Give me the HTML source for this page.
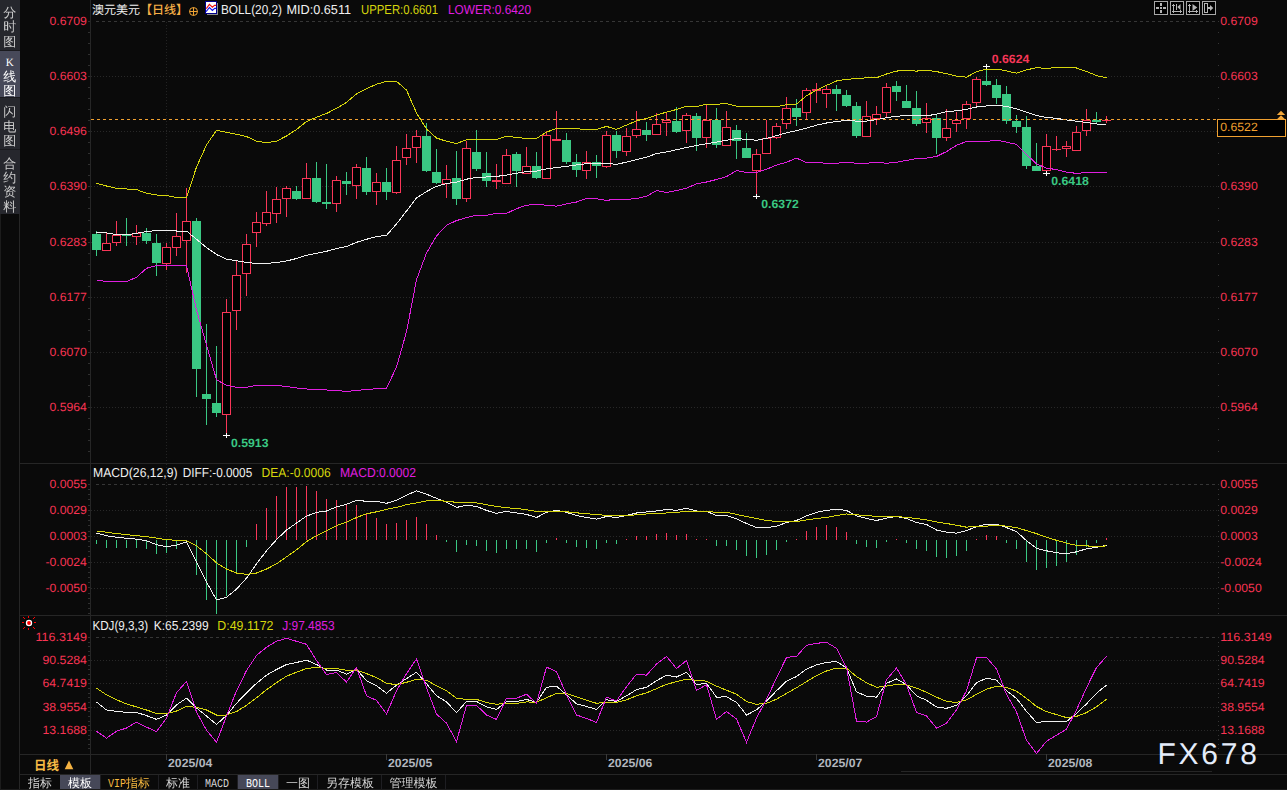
<!DOCTYPE html>
<html lang="zh-CN"><head><meta charset="utf-8"><title>澳元美元 日线</title>
<style>html,body{margin:0;padding:0;background:#0a0a0a;overflow:hidden}svg{display:block}</style></head>
<body>
<svg width="1287" height="790" viewBox="0 0 1287 790" shape-rendering="crispEdges" font-family='"Liberation Sans", "Noto Sans CJK SC", sans-serif' text-rendering="geometricPrecision">
<rect x="0" y="0" width="1287" height="790" fill="#0a0a0a"/>
<rect x="0" y="0" width="20" height="214" fill="#26272d"/>
<rect x="0" y="51" width="20" height="46" fill="#474959"/>
<line x1="0" y1="50.5" x2="20" y2="50.5" stroke="#1a1a1e"/>
<line x1="0" y1="97.5" x2="20" y2="97.5" stroke="#1a1a1e"/>
<line x1="0" y1="149.5" x2="20" y2="149.5" stroke="#1a1a1e"/>
<g font-family='"Liberation Serif", "WenQuanYi Zen Hei", sans-serif' font-size="13" text-anchor="middle">
<text fill="#cccccc"><tspan x="9.7" y="16.5">分</tspan><tspan x="9.7" y="31">时</tspan><tspan x="9.7" y="45.5">图</tspan></text>
<text fill="#ffffff"><tspan x="9.7" y="65.5" font-size="11">K</tspan><tspan x="9.7" y="81">线</tspan><tspan x="9.7" y="95">图</tspan></text>
<text fill="#cccccc"><tspan x="9.7" y="116">闪</tspan><tspan x="9.7" y="130.5">电</tspan><tspan x="9.7" y="144.5">图</tspan></text>
<text fill="#cccccc"><tspan x="9.7" y="168">合</tspan><tspan x="9.7" y="182">约</tspan><tspan x="9.7" y="196">资</tspan><tspan x="9.7" y="210.5">料</tspan></text>
</g>
<line x1="19.5" y1="214" x2="19.5" y2="790" stroke="#262626"/>
<line x1="0.5" y1="214" x2="0.5" y2="790" stroke="#1c1c1c"/>
<line x1="90.5" y1="0" x2="90.5" y2="774" stroke="#262626"/>
<line x1="19" y1="463.5" x2="1287" y2="463.5" stroke="#262626"/>
<line x1="19" y1="615.5" x2="1287" y2="615.5" stroke="#262626"/>
<line x1="19" y1="754.5" x2="1287" y2="754.5" stroke="#262626"/>
<line x1="901" y1="771.5" x2="1212" y2="771.5" stroke="#262626"/>
<line x1="19" y1="774.5" x2="1287" y2="774.5" stroke="#262626"/>
<line x1="0" y1="789.5" x2="1287" y2="789.5" stroke="#1c1c1c"/>
<line x1="96" y1="21.5" x2="1216" y2="21.5" stroke="#363636" stroke-dasharray="3 3"/>
<text x="49.5" y="24.8" fill="#f83453" font-size="12" textLength="37.4" lengthAdjust="spacingAndGlyphs">0.6709</text>
<text x="1220.3" y="24.8" fill="#f83453" font-size="12" textLength="37.4" lengthAdjust="spacingAndGlyphs">0.6709</text>
<line x1="91" y1="76.5" x2="1218" y2="76.5" stroke="#282828" stroke-dasharray="1 2"/>
<text x="49.5" y="79.8" fill="#f83453" font-size="12" textLength="37.4" lengthAdjust="spacingAndGlyphs">0.6603</text>
<text x="1220.3" y="79.8" fill="#f83453" font-size="12" textLength="37.4" lengthAdjust="spacingAndGlyphs">0.6603</text>
<line x1="91" y1="131.5" x2="1218" y2="131.5" stroke="#282828" stroke-dasharray="1 2"/>
<text x="49.5" y="134.8" fill="#f83453" font-size="12" textLength="37.4" lengthAdjust="spacingAndGlyphs">0.6496</text>
<text x="1220.3" y="134.8" fill="#f83453" font-size="12" textLength="37.4" lengthAdjust="spacingAndGlyphs">0.6496</text>
<line x1="91" y1="186.5" x2="1218" y2="186.5" stroke="#282828" stroke-dasharray="1 2"/>
<text x="49.5" y="189.8" fill="#f83453" font-size="12" textLength="37.4" lengthAdjust="spacingAndGlyphs">0.6390</text>
<text x="1220.3" y="189.8" fill="#f83453" font-size="12" textLength="37.4" lengthAdjust="spacingAndGlyphs">0.6390</text>
<line x1="91" y1="242.5" x2="1218" y2="242.5" stroke="#282828" stroke-dasharray="1 2"/>
<text x="49.5" y="245.8" fill="#f83453" font-size="12" textLength="37.4" lengthAdjust="spacingAndGlyphs">0.6283</text>
<text x="1220.3" y="245.8" fill="#f83453" font-size="12" textLength="37.4" lengthAdjust="spacingAndGlyphs">0.6283</text>
<line x1="91" y1="297.5" x2="1218" y2="297.5" stroke="#282828" stroke-dasharray="1 2"/>
<text x="49.5" y="300.8" fill="#f83453" font-size="12" textLength="37.4" lengthAdjust="spacingAndGlyphs">0.6177</text>
<text x="1220.3" y="300.8" fill="#f83453" font-size="12" textLength="37.4" lengthAdjust="spacingAndGlyphs">0.6177</text>
<line x1="91" y1="352.5" x2="1218" y2="352.5" stroke="#282828" stroke-dasharray="1 2"/>
<text x="49.5" y="355.8" fill="#f83453" font-size="12" textLength="37.4" lengthAdjust="spacingAndGlyphs">0.6070</text>
<text x="1220.3" y="355.8" fill="#f83453" font-size="12" textLength="37.4" lengthAdjust="spacingAndGlyphs">0.6070</text>
<line x1="91" y1="407.5" x2="1218" y2="407.5" stroke="#282828" stroke-dasharray="1 2"/>
<text x="49.5" y="410.8" fill="#f83453" font-size="12" textLength="37.4" lengthAdjust="spacingAndGlyphs">0.5964</text>
<text x="1220.3" y="410.8" fill="#f83453" font-size="12" textLength="37.4" lengthAdjust="spacingAndGlyphs">0.5964</text>
<line x1="166.5" y1="22" x2="166.5" y2="462" stroke="#232323" stroke-dasharray="1 2"/>
<line x1="166.5" y1="464" x2="166.5" y2="614" stroke="#232323" stroke-dasharray="1 2"/>
<line x1="166.5" y1="616" x2="166.5" y2="754" stroke="#232323" stroke-dasharray="1 2"/>
<line x1="166.5" y1="754" x2="166.5" y2="760" stroke="#3a3a3a"/>
<line x1="386.5" y1="754" x2="386.5" y2="760" stroke="#3a3a3a"/>
<line x1="606.5" y1="754" x2="606.5" y2="760" stroke="#3a3a3a"/>
<line x1="816.5" y1="754" x2="816.5" y2="760" stroke="#3a3a3a"/>
<line x1="1046.5" y1="754" x2="1046.5" y2="760" stroke="#3a3a3a"/>
<line x1="88" y1="21.5" x2="90" y2="21.5" stroke="#303030"/>
<rect x="1218" y="21" width="1" height="1" fill="#353535"/>
<line x1="88" y1="32.5" x2="90" y2="32.5" stroke="#303030"/>
<rect x="1218" y="32" width="1" height="1" fill="#353535"/>
<line x1="88" y1="43.5" x2="90" y2="43.5" stroke="#303030"/>
<rect x="1218" y="43" width="1" height="1" fill="#353535"/>
<line x1="88" y1="54.5" x2="90" y2="54.5" stroke="#303030"/>
<rect x="1218" y="54" width="1" height="1" fill="#353535"/>
<line x1="88" y1="65.5" x2="90" y2="65.5" stroke="#303030"/>
<rect x="1218" y="65" width="1" height="1" fill="#353535"/>
<line x1="88" y1="76.5" x2="90" y2="76.5" stroke="#303030"/>
<rect x="1218" y="76" width="1" height="1" fill="#353535"/>
<line x1="88" y1="87.5" x2="90" y2="87.5" stroke="#303030"/>
<rect x="1218" y="87" width="1" height="1" fill="#353535"/>
<line x1="88" y1="98.5" x2="90" y2="98.5" stroke="#303030"/>
<rect x="1218" y="98" width="1" height="1" fill="#353535"/>
<line x1="88" y1="109.5" x2="90" y2="109.5" stroke="#303030"/>
<rect x="1218" y="109" width="1" height="1" fill="#353535"/>
<line x1="88" y1="120.5" x2="90" y2="120.5" stroke="#303030"/>
<rect x="1218" y="120" width="1" height="1" fill="#353535"/>
<line x1="88" y1="131.5" x2="90" y2="131.5" stroke="#303030"/>
<rect x="1218" y="131" width="1" height="1" fill="#353535"/>
<line x1="88" y1="142.5" x2="90" y2="142.5" stroke="#303030"/>
<rect x="1218" y="142" width="1" height="1" fill="#353535"/>
<line x1="88" y1="153.5" x2="90" y2="153.5" stroke="#303030"/>
<rect x="1218" y="153" width="1" height="1" fill="#353535"/>
<line x1="88" y1="164.5" x2="90" y2="164.5" stroke="#303030"/>
<rect x="1218" y="164" width="1" height="1" fill="#353535"/>
<line x1="88" y1="175.5" x2="90" y2="175.5" stroke="#303030"/>
<rect x="1218" y="175" width="1" height="1" fill="#353535"/>
<line x1="88" y1="186.5" x2="90" y2="186.5" stroke="#303030"/>
<rect x="1218" y="186" width="1" height="1" fill="#353535"/>
<line x1="88" y1="197.5" x2="90" y2="197.5" stroke="#303030"/>
<rect x="1218" y="197" width="1" height="1" fill="#353535"/>
<line x1="88" y1="208.5" x2="90" y2="208.5" stroke="#303030"/>
<rect x="1218" y="208" width="1" height="1" fill="#353535"/>
<line x1="88" y1="220.5" x2="90" y2="220.5" stroke="#303030"/>
<rect x="1218" y="220" width="1" height="1" fill="#353535"/>
<line x1="88" y1="231.5" x2="90" y2="231.5" stroke="#303030"/>
<rect x="1218" y="231" width="1" height="1" fill="#353535"/>
<line x1="88" y1="242.5" x2="90" y2="242.5" stroke="#303030"/>
<rect x="1218" y="242" width="1" height="1" fill="#353535"/>
<line x1="88" y1="253.5" x2="90" y2="253.5" stroke="#303030"/>
<rect x="1218" y="253" width="1" height="1" fill="#353535"/>
<line x1="88" y1="264.5" x2="90" y2="264.5" stroke="#303030"/>
<rect x="1218" y="264" width="1" height="1" fill="#353535"/>
<line x1="88" y1="275.5" x2="90" y2="275.5" stroke="#303030"/>
<rect x="1218" y="275" width="1" height="1" fill="#353535"/>
<line x1="88" y1="286.5" x2="90" y2="286.5" stroke="#303030"/>
<rect x="1218" y="286" width="1" height="1" fill="#353535"/>
<line x1="88" y1="297.5" x2="90" y2="297.5" stroke="#303030"/>
<rect x="1218" y="297" width="1" height="1" fill="#353535"/>
<line x1="88" y1="308.5" x2="90" y2="308.5" stroke="#303030"/>
<rect x="1218" y="308" width="1" height="1" fill="#353535"/>
<line x1="88" y1="319.5" x2="90" y2="319.5" stroke="#303030"/>
<rect x="1218" y="319" width="1" height="1" fill="#353535"/>
<line x1="88" y1="330.5" x2="90" y2="330.5" stroke="#303030"/>
<rect x="1218" y="330" width="1" height="1" fill="#353535"/>
<line x1="88" y1="341.5" x2="90" y2="341.5" stroke="#303030"/>
<rect x="1218" y="341" width="1" height="1" fill="#353535"/>
<line x1="88" y1="352.5" x2="90" y2="352.5" stroke="#303030"/>
<rect x="1218" y="352" width="1" height="1" fill="#353535"/>
<line x1="88" y1="363.5" x2="90" y2="363.5" stroke="#303030"/>
<rect x="1218" y="363" width="1" height="1" fill="#353535"/>
<line x1="88" y1="374.5" x2="90" y2="374.5" stroke="#303030"/>
<rect x="1218" y="374" width="1" height="1" fill="#353535"/>
<line x1="88" y1="385.5" x2="90" y2="385.5" stroke="#303030"/>
<rect x="1218" y="385" width="1" height="1" fill="#353535"/>
<line x1="88" y1="396.5" x2="90" y2="396.5" stroke="#303030"/>
<rect x="1218" y="396" width="1" height="1" fill="#353535"/>
<line x1="88" y1="407.5" x2="90" y2="407.5" stroke="#303030"/>
<rect x="1218" y="407" width="1" height="1" fill="#353535"/>
<line x1="88" y1="418.5" x2="90" y2="418.5" stroke="#303030"/>
<rect x="1218" y="418" width="1" height="1" fill="#353535"/>
<line x1="88" y1="429.5" x2="90" y2="429.5" stroke="#303030"/>
<rect x="1218" y="429" width="1" height="1" fill="#353535"/>
<line x1="88" y1="440.5" x2="90" y2="440.5" stroke="#303030"/>
<rect x="1218" y="440" width="1" height="1" fill="#353535"/>
<line x1="88" y1="451.5" x2="90" y2="451.5" stroke="#303030"/>
<rect x="1218" y="451" width="1" height="1" fill="#353535"/>
<line x1="88" y1="484.5" x2="90" y2="484.5" stroke="#303030"/>
<rect x="1218" y="484" width="1" height="1" fill="#353535"/>
<line x1="88" y1="489.5" x2="90" y2="489.5" stroke="#303030"/>
<rect x="1218" y="489" width="1" height="1" fill="#353535"/>
<line x1="88" y1="494.5" x2="90" y2="494.5" stroke="#303030"/>
<rect x="1218" y="494" width="1" height="1" fill="#353535"/>
<line x1="88" y1="499.5" x2="90" y2="499.5" stroke="#303030"/>
<rect x="1218" y="499" width="1" height="1" fill="#353535"/>
<line x1="88" y1="505.5" x2="90" y2="505.5" stroke="#303030"/>
<rect x="1218" y="505" width="1" height="1" fill="#353535"/>
<line x1="88" y1="510.5" x2="90" y2="510.5" stroke="#303030"/>
<rect x="1218" y="510" width="1" height="1" fill="#353535"/>
<line x1="88" y1="515.5" x2="90" y2="515.5" stroke="#303030"/>
<rect x="1218" y="515" width="1" height="1" fill="#353535"/>
<line x1="88" y1="520.5" x2="90" y2="520.5" stroke="#303030"/>
<rect x="1218" y="520" width="1" height="1" fill="#353535"/>
<line x1="88" y1="525.5" x2="90" y2="525.5" stroke="#303030"/>
<rect x="1218" y="525" width="1" height="1" fill="#353535"/>
<line x1="88" y1="531.5" x2="90" y2="531.5" stroke="#303030"/>
<rect x="1218" y="531" width="1" height="1" fill="#353535"/>
<line x1="88" y1="536.5" x2="90" y2="536.5" stroke="#303030"/>
<rect x="1218" y="536" width="1" height="1" fill="#353535"/>
<line x1="88" y1="541.5" x2="90" y2="541.5" stroke="#303030"/>
<rect x="1218" y="541" width="1" height="1" fill="#353535"/>
<line x1="88" y1="546.5" x2="90" y2="546.5" stroke="#303030"/>
<rect x="1218" y="546" width="1" height="1" fill="#353535"/>
<line x1="88" y1="551.5" x2="90" y2="551.5" stroke="#303030"/>
<rect x="1218" y="551" width="1" height="1" fill="#353535"/>
<line x1="88" y1="556.5" x2="90" y2="556.5" stroke="#303030"/>
<rect x="1218" y="556" width="1" height="1" fill="#353535"/>
<line x1="88" y1="562.5" x2="90" y2="562.5" stroke="#303030"/>
<rect x="1218" y="562" width="1" height="1" fill="#353535"/>
<line x1="88" y1="567.5" x2="90" y2="567.5" stroke="#303030"/>
<rect x="1218" y="567" width="1" height="1" fill="#353535"/>
<line x1="88" y1="572.5" x2="90" y2="572.5" stroke="#303030"/>
<rect x="1218" y="572" width="1" height="1" fill="#353535"/>
<line x1="88" y1="577.5" x2="90" y2="577.5" stroke="#303030"/>
<rect x="1218" y="577" width="1" height="1" fill="#353535"/>
<line x1="88" y1="582.5" x2="90" y2="582.5" stroke="#303030"/>
<rect x="1218" y="582" width="1" height="1" fill="#353535"/>
<line x1="88" y1="587.5" x2="90" y2="587.5" stroke="#303030"/>
<rect x="1218" y="587" width="1" height="1" fill="#353535"/>
<line x1="88" y1="593.5" x2="90" y2="593.5" stroke="#303030"/>
<rect x="1218" y="593" width="1" height="1" fill="#353535"/>
<line x1="88" y1="598.5" x2="90" y2="598.5" stroke="#303030"/>
<rect x="1218" y="598" width="1" height="1" fill="#353535"/>
<line x1="88" y1="603.5" x2="90" y2="603.5" stroke="#303030"/>
<rect x="1218" y="603" width="1" height="1" fill="#353535"/>
<line x1="88" y1="608.5" x2="90" y2="608.5" stroke="#303030"/>
<rect x="1218" y="608" width="1" height="1" fill="#353535"/>
<line x1="88" y1="613.5" x2="90" y2="613.5" stroke="#303030"/>
<rect x="1218" y="613" width="1" height="1" fill="#353535"/>
<line x1="88" y1="637.5" x2="90" y2="637.5" stroke="#303030"/>
<rect x="1218" y="637" width="1" height="1" fill="#353535"/>
<line x1="88" y1="642.5" x2="90" y2="642.5" stroke="#303030"/>
<rect x="1218" y="642" width="1" height="1" fill="#353535"/>
<line x1="88" y1="646.5" x2="90" y2="646.5" stroke="#303030"/>
<rect x="1218" y="646" width="1" height="1" fill="#353535"/>
<line x1="88" y1="651.5" x2="90" y2="651.5" stroke="#303030"/>
<rect x="1218" y="651" width="1" height="1" fill="#353535"/>
<line x1="88" y1="655.5" x2="90" y2="655.5" stroke="#303030"/>
<rect x="1218" y="655" width="1" height="1" fill="#353535"/>
<line x1="88" y1="660.5" x2="90" y2="660.5" stroke="#303030"/>
<rect x="1218" y="660" width="1" height="1" fill="#353535"/>
<line x1="88" y1="665.5" x2="90" y2="665.5" stroke="#303030"/>
<rect x="1218" y="665" width="1" height="1" fill="#353535"/>
<line x1="88" y1="669.5" x2="90" y2="669.5" stroke="#303030"/>
<rect x="1218" y="669" width="1" height="1" fill="#353535"/>
<line x1="88" y1="674.5" x2="90" y2="674.5" stroke="#303030"/>
<rect x="1218" y="674" width="1" height="1" fill="#353535"/>
<line x1="88" y1="679.5" x2="90" y2="679.5" stroke="#303030"/>
<rect x="1218" y="679" width="1" height="1" fill="#353535"/>
<line x1="88" y1="683.5" x2="90" y2="683.5" stroke="#303030"/>
<rect x="1218" y="683" width="1" height="1" fill="#353535"/>
<line x1="88" y1="688.5" x2="90" y2="688.5" stroke="#303030"/>
<rect x="1218" y="688" width="1" height="1" fill="#353535"/>
<line x1="88" y1="693.5" x2="90" y2="693.5" stroke="#303030"/>
<rect x="1218" y="693" width="1" height="1" fill="#353535"/>
<line x1="88" y1="697.5" x2="90" y2="697.5" stroke="#303030"/>
<rect x="1218" y="697" width="1" height="1" fill="#353535"/>
<line x1="88" y1="702.5" x2="90" y2="702.5" stroke="#303030"/>
<rect x="1218" y="702" width="1" height="1" fill="#353535"/>
<line x1="88" y1="707.5" x2="90" y2="707.5" stroke="#303030"/>
<rect x="1218" y="707" width="1" height="1" fill="#353535"/>
<line x1="88" y1="711.5" x2="90" y2="711.5" stroke="#303030"/>
<rect x="1218" y="711" width="1" height="1" fill="#353535"/>
<line x1="88" y1="716.5" x2="90" y2="716.5" stroke="#303030"/>
<rect x="1218" y="716" width="1" height="1" fill="#353535"/>
<line x1="88" y1="721.5" x2="90" y2="721.5" stroke="#303030"/>
<rect x="1218" y="721" width="1" height="1" fill="#353535"/>
<line x1="88" y1="725.5" x2="90" y2="725.5" stroke="#303030"/>
<rect x="1218" y="725" width="1" height="1" fill="#353535"/>
<line x1="88" y1="730.5" x2="90" y2="730.5" stroke="#303030"/>
<rect x="1218" y="730" width="1" height="1" fill="#353535"/>
<line x1="88" y1="735.5" x2="90" y2="735.5" stroke="#303030"/>
<rect x="1218" y="735" width="1" height="1" fill="#353535"/>
<line x1="88" y1="739.5" x2="90" y2="739.5" stroke="#303030"/>
<rect x="1218" y="739" width="1" height="1" fill="#353535"/>
<line x1="88" y1="744.5" x2="90" y2="744.5" stroke="#303030"/>
<rect x="1218" y="744" width="1" height="1" fill="#353535"/>
<line x1="88" y1="748.5" x2="90" y2="748.5" stroke="#303030"/>
<rect x="1218" y="748" width="1" height="1" fill="#353535"/>
<line x1="96" y1="484.5" x2="1216" y2="484.5" stroke="#363636" stroke-dasharray="3 3"/>
<text x="49.5" y="487.8" fill="#f83453" font-size="12" textLength="37.4" lengthAdjust="spacingAndGlyphs">0.0055</text>
<text x="1220.3" y="487.8" fill="#f83453" font-size="12" textLength="37.4" lengthAdjust="spacingAndGlyphs">0.0055</text>
<line x1="91" y1="510.5" x2="1218" y2="510.5" stroke="#282828" stroke-dasharray="1 2"/>
<text x="49.5" y="513.8" fill="#f83453" font-size="12" textLength="37.4" lengthAdjust="spacingAndGlyphs">0.0029</text>
<text x="1220.3" y="513.8" fill="#f83453" font-size="12" textLength="37.4" lengthAdjust="spacingAndGlyphs">0.0029</text>
<line x1="91" y1="536.5" x2="1218" y2="536.5" stroke="#282828" stroke-dasharray="1 2"/>
<text x="49.5" y="539.8" fill="#f83453" font-size="12" textLength="37.4" lengthAdjust="spacingAndGlyphs">0.0003</text>
<text x="1220.3" y="539.8" fill="#f83453" font-size="12" textLength="37.4" lengthAdjust="spacingAndGlyphs">0.0003</text>
<line x1="91" y1="562.5" x2="1218" y2="562.5" stroke="#282828" stroke-dasharray="1 2"/>
<text x="45.5" y="565.8" fill="#f83453" font-size="12" textLength="41.4" lengthAdjust="spacingAndGlyphs">-0.0024</text>
<text x="1220.3" y="565.8" fill="#f83453" font-size="12" textLength="41.4" lengthAdjust="spacingAndGlyphs">-0.0024</text>
<line x1="91" y1="588.5" x2="1218" y2="588.5" stroke="#282828" stroke-dasharray="1 2"/>
<text x="45.5" y="591.8" fill="#f83453" font-size="12" textLength="41.4" lengthAdjust="spacingAndGlyphs">-0.0050</text>
<text x="1220.3" y="591.8" fill="#f83453" font-size="12" textLength="41.4" lengthAdjust="spacingAndGlyphs">-0.0050</text>
<line x1="96" y1="637.5" x2="1216" y2="637.5" stroke="#363636" stroke-dasharray="3 3"/>
<text x="35.5" y="640.8" fill="#f83453" font-size="12" textLength="51.4" lengthAdjust="spacingAndGlyphs">116.3149</text>
<text x="1220.3" y="640.8" fill="#f83453" font-size="12" textLength="51.4" lengthAdjust="spacingAndGlyphs">116.3149</text>
<line x1="91" y1="660.5" x2="1218" y2="660.5" stroke="#282828" stroke-dasharray="1 2"/>
<text x="42.5" y="663.8" fill="#f83453" font-size="12" textLength="44.4" lengthAdjust="spacingAndGlyphs">90.5284</text>
<text x="1220.3" y="663.8" fill="#f83453" font-size="12" textLength="44.4" lengthAdjust="spacingAndGlyphs">90.5284</text>
<line x1="91" y1="683.5" x2="1218" y2="683.5" stroke="#282828" stroke-dasharray="1 2"/>
<text x="42.5" y="686.8" fill="#f83453" font-size="12" textLength="44.4" lengthAdjust="spacingAndGlyphs">64.7419</text>
<text x="1220.3" y="686.8" fill="#f83453" font-size="12" textLength="44.4" lengthAdjust="spacingAndGlyphs">64.7419</text>
<line x1="91" y1="707.5" x2="1218" y2="707.5" stroke="#282828" stroke-dasharray="1 2"/>
<text x="42.5" y="710.8" fill="#f83453" font-size="12" textLength="44.4" lengthAdjust="spacingAndGlyphs">38.9554</text>
<text x="1220.3" y="710.8" fill="#f83453" font-size="12" textLength="44.4" lengthAdjust="spacingAndGlyphs">38.9554</text>
<line x1="91" y1="730.5" x2="1218" y2="730.5" stroke="#282828" stroke-dasharray="1 2"/>
<text x="42.5" y="733.8" fill="#f83453" font-size="12" textLength="44.4" lengthAdjust="spacingAndGlyphs">13.1688</text>
<text x="1220.3" y="733.8" fill="#f83453" font-size="12" textLength="44.4" lengthAdjust="spacingAndGlyphs">13.1688</text>
<polyline points="96.5,183.3 106.5,186 116.5,188.4 126.5,189 136.5,189.6 146.5,193.2 156.5,195 166.5,195.6 176.5,197.5 186.5,197.5 196.5,167 206.5,145 216.5,130.3 226.5,132.3 236.5,134.3 246.5,136.5 256.5,141.2 266.5,142.6 276.5,141.2 286.5,136 296.5,129.5 306.5,121.5 316.5,117.2 326.5,113.5 336.5,108.4 346.5,102.4 356.5,93.9 366.5,88.7 376.5,84.2 386.5,81.3 396.5,81.3 406.5,90.1 416.5,113 426.5,129 436.5,138 446.5,141.3 456.5,143.5 466.5,139.7 476.5,139.4 486.5,139.4 496.5,139.4 506.5,136.1 516.5,137.5 526.5,138.4 536.5,138.4 546.5,132.1 556.5,128.5 566.5,128.5 576.5,128.5 586.5,129.9 596.5,129.5 606.5,126.4 616.5,129.4 626.5,125.1 636.5,120.9 646.5,118.4 656.5,115.2 666.5,112.1 676.5,109.5 686.5,106.1 696.5,106.5 706.5,104.2 716.5,104.2 726.5,103.6 736.5,106.1 746.5,106.1 756.5,106.1 766.5,107 776.5,106.8 786.5,104.7 796.5,104 806.5,95.8 816.5,90.1 826.5,85.4 836.5,81 846.5,79.3 856.5,78.7 866.5,77.8 876.5,77.8 886.5,74 896.5,71.1 906.5,70.2 916.5,71.1 926.5,70.2 936.5,71.6 946.5,73.7 956.5,76.2 966.5,77.1 976.5,71.8 986.5,69 996.5,69 1006.5,70.9 1016.5,73.2 1026.5,69.9 1036.5,67.7 1046.5,68.4 1056.5,67.5 1066.5,67.5 1076.5,68 1086.5,71.5 1096.5,75.6 1106.5,77.9" fill="none" stroke="#d6d60c" stroke-width="1"/>
<polyline points="96.5,232.3 106.5,233 116.5,234.6 126.5,235 136.5,233.2 146.5,231.7 156.5,230.4 166.5,230.4 176.5,231 186.5,231 196.5,239.3 206.5,247.5 216.5,254.5 226.5,259.2 236.5,260.8 246.5,262.5 256.5,263.4 266.5,263.4 276.5,262.5 286.5,261 296.5,258.5 306.5,255.3 316.5,253.3 326.5,251.3 336.5,248.5 346.5,246.5 356.5,242.3 366.5,239.3 376.5,236.5 386.5,235.3 396.5,224 406.5,211 416.5,198 426.5,191.6 436.5,186.3 446.5,183.6 456.5,182.1 466.5,179.2 476.5,177.3 486.5,177 496.5,176.4 506.5,175.1 516.5,173.2 526.5,171.6 536.5,171.1 546.5,168.8 556.5,167.5 566.5,166.3 576.5,165 586.5,163.7 596.5,163.8 606.5,163.4 616.5,164.4 626.5,162.1 636.5,159.6 646.5,157.3 656.5,153.5 666.5,152 676.5,149.7 686.5,147.5 696.5,145.4 706.5,143.7 716.5,142.1 726.5,140.2 736.5,138.7 746.5,139.3 756.5,140.2 766.5,138.4 776.5,135.7 786.5,132.8 796.5,130.6 806.5,128.1 816.5,125.2 826.5,123 836.5,121.5 846.5,120.5 856.5,121.1 866.5,121.1 876.5,119.6 886.5,117.7 896.5,116.1 906.5,115.8 916.5,115.8 926.5,115.8 936.5,114.2 946.5,111.7 956.5,110.8 966.5,109.4 976.5,107 986.5,106 996.5,105.1 1006.5,106.4 1016.5,108.9 1026.5,112.3 1036.5,115.5 1046.5,117.4 1056.5,118.4 1066.5,119.9 1076.5,121.2 1086.5,122.5 1096.5,124 1106.5,124.4" fill="none" stroke="#f0f0f0" stroke-width="1"/>
<polyline points="96.5,280 106.5,281.5 116.5,281.5 126.5,281.5 136.5,277.3 146.5,268.3 156.5,265.5 166.5,265.5 176.5,265.5 186.5,265.5 196.5,310 206.5,345 216.5,379.7 226.5,385.4 236.5,387.3 246.5,387.3 256.5,385.4 266.5,385.4 276.5,385.4 286.5,386.5 296.5,388 306.5,389 316.5,389.5 326.5,390 336.5,390.5 346.5,391.5 356.5,390.5 366.5,389.4 376.5,388.8 386.5,388.3 396.5,367 406.5,331.7 416.5,279.7 426.5,253 436.5,236 446.5,225.2 456.5,220.6 466.5,217.6 476.5,215.3 486.5,215.3 496.5,213.4 506.5,213.4 516.5,208.7 526.5,205.2 536.5,204.3 546.5,205.2 556.5,206.2 566.5,203.9 576.5,202 586.5,198.6 596.5,198.8 606.5,200.4 616.5,199.1 626.5,199.5 636.5,198.5 646.5,196.3 656.5,190.6 666.5,192.5 676.5,190.6 686.5,188.1 696.5,183.9 706.5,182 716.5,179.5 726.5,176.7 736.5,170.6 746.5,172.5 756.5,172.5 766.5,169.3 776.5,165.1 786.5,162.3 796.5,158.1 806.5,162.7 816.5,162.7 826.5,163.2 836.5,163.2 846.5,162.3 856.5,163.2 866.5,163.2 876.5,162.3 886.5,163.2 896.5,162.3 906.5,160.4 916.5,158.5 926.5,158.1 936.5,156.5 946.5,151.6 956.5,145.3 966.5,141.5 976.5,141.5 986.5,141.5 996.5,140.2 1006.5,142.1 1016.5,144.4 1026.5,154.4 1036.5,163.9 1046.5,168.1 1056.5,169.6 1066.5,172.1 1076.5,173.4 1086.5,172.5 1096.5,172.5 1106.5,172.5" fill="none" stroke="#e01ee0" stroke-width="1"/>
<rect x="96" y="231" width="1" height="25" fill="#3ac883"/>
<rect x="92" y="234" width="9" height="16" fill="#3ac883"/>
<rect x="106" y="232" width="1" height="11" fill="#f83658"/>
<rect x="102.5" y="243.5" width="8" height="7" fill="#000" stroke="#f83658"/>
<rect x="116" y="221" width="1" height="14" fill="#f83658"/>
<rect x="116" y="243" width="1" height="3" fill="#f83658"/>
<rect x="112.5" y="235.5" width="8" height="7" fill="#000" stroke="#f83658"/>
<rect x="126" y="218" width="1" height="28" fill="#3ac883"/>
<rect x="122" y="234" width="9" height="2" fill="#3ac883"/>
<rect x="136" y="225" width="1" height="8" fill="#f83658"/>
<rect x="136" y="237" width="1" height="8" fill="#f83658"/>
<rect x="132.5" y="233.5" width="8" height="3" fill="#000" stroke="#f83658"/>
<rect x="146" y="228" width="1" height="16" fill="#3ac883"/>
<rect x="142" y="233" width="9" height="8" fill="#3ac883"/>
<rect x="156" y="234" width="1" height="42" fill="#3ac883"/>
<rect x="152" y="243" width="9" height="20" fill="#3ac883"/>
<rect x="166" y="243" width="1" height="4" fill="#f83658"/>
<rect x="166" y="264" width="1" height="6" fill="#f83658"/>
<rect x="162.5" y="247.5" width="8" height="16" fill="#000" stroke="#f83658"/>
<rect x="176" y="213" width="1" height="23" fill="#f83658"/>
<rect x="176" y="248" width="1" height="8" fill="#f83658"/>
<rect x="172.5" y="236.5" width="8" height="11" fill="#000" stroke="#f83658"/>
<rect x="186" y="188" width="1" height="33" fill="#f83658"/>
<rect x="186" y="241" width="1" height="32" fill="#f83658"/>
<rect x="182.5" y="221.5" width="8" height="19" fill="#000" stroke="#f83658"/>
<rect x="196" y="218" width="1" height="179" fill="#3ac883"/>
<rect x="192" y="221" width="9" height="148" fill="#3ac883"/>
<rect x="206" y="324" width="1" height="101" fill="#3ac883"/>
<rect x="202" y="394" width="9" height="5" fill="#3ac883"/>
<rect x="216" y="346" width="1" height="71" fill="#3ac883"/>
<rect x="212" y="403" width="9" height="10" fill="#3ac883"/>
<rect x="226" y="299" width="1" height="13" fill="#f83658"/>
<rect x="226" y="415" width="1" height="20" fill="#f83658"/>
<rect x="222.5" y="312.5" width="8" height="102" fill="#000" stroke="#f83658"/>
<rect x="236" y="261" width="1" height="14" fill="#f83658"/>
<rect x="236" y="311" width="1" height="19" fill="#f83658"/>
<rect x="232.5" y="275.5" width="8" height="35" fill="#000" stroke="#f83658"/>
<rect x="246" y="234" width="1" height="10" fill="#f83658"/>
<rect x="246" y="274" width="1" height="22" fill="#f83658"/>
<rect x="242.5" y="244.5" width="8" height="29" fill="#000" stroke="#f83658"/>
<rect x="256" y="212" width="1" height="10" fill="#f83658"/>
<rect x="256" y="233" width="1" height="14" fill="#f83658"/>
<rect x="252.5" y="222.5" width="8" height="10" fill="#000" stroke="#f83658"/>
<rect x="266" y="191" width="1" height="21" fill="#f83658"/>
<rect x="266" y="224" width="1" height="2" fill="#f83658"/>
<rect x="262.5" y="212.5" width="8" height="11" fill="#000" stroke="#f83658"/>
<rect x="276" y="187" width="1" height="12" fill="#f83658"/>
<rect x="276" y="214" width="1" height="9" fill="#f83658"/>
<rect x="272.5" y="199.5" width="8" height="14" fill="#000" stroke="#f83658"/>
<rect x="286" y="186" width="1" height="2" fill="#f83658"/>
<rect x="286" y="199" width="1" height="18" fill="#f83658"/>
<rect x="282.5" y="188.5" width="8" height="10" fill="#000" stroke="#f83658"/>
<rect x="296" y="186" width="1" height="14" fill="#3ac883"/>
<rect x="292" y="191" width="9" height="8" fill="#3ac883"/>
<rect x="306" y="163" width="1" height="15" fill="#f83658"/>
<rect x="302.5" y="178.5" width="8" height="20" fill="#000" stroke="#f83658"/>
<rect x="316" y="162" width="1" height="41" fill="#3ac883"/>
<rect x="312" y="178" width="9" height="24" fill="#3ac883"/>
<rect x="326" y="164" width="1" height="45" fill="#3ac883"/>
<rect x="322" y="202" width="9" height="2" fill="#3ac883"/>
<rect x="336" y="176" width="1" height="4" fill="#f83658"/>
<rect x="336" y="204" width="1" height="8" fill="#f83658"/>
<rect x="332.5" y="180.5" width="8" height="23" fill="#000" stroke="#f83658"/>
<rect x="346" y="172" width="1" height="23" fill="#3ac883"/>
<rect x="342" y="181" width="9" height="3" fill="#3ac883"/>
<rect x="356" y="164" width="1" height="3" fill="#f83658"/>
<rect x="356" y="186" width="1" height="13" fill="#f83658"/>
<rect x="352.5" y="167.5" width="8" height="18" fill="#000" stroke="#f83658"/>
<rect x="366" y="157" width="1" height="38" fill="#3ac883"/>
<rect x="362" y="168" width="9" height="24" fill="#3ac883"/>
<rect x="376" y="173" width="1" height="9" fill="#f83658"/>
<rect x="376" y="192" width="1" height="13" fill="#f83658"/>
<rect x="372.5" y="182.5" width="8" height="9" fill="#000" stroke="#f83658"/>
<rect x="386" y="168" width="1" height="32" fill="#3ac883"/>
<rect x="382" y="182" width="9" height="10" fill="#3ac883"/>
<rect x="396" y="146" width="1" height="14" fill="#f83658"/>
<rect x="396" y="193" width="1" height="1" fill="#f83658"/>
<rect x="392.5" y="160.5" width="8" height="32" fill="#000" stroke="#f83658"/>
<rect x="406" y="134" width="1" height="14" fill="#f83658"/>
<rect x="406" y="158" width="1" height="7" fill="#f83658"/>
<rect x="402.5" y="148.5" width="8" height="9" fill="#000" stroke="#f83658"/>
<rect x="416" y="130" width="1" height="6" fill="#f83658"/>
<rect x="416" y="148" width="1" height="15" fill="#f83658"/>
<rect x="412.5" y="136.5" width="8" height="11" fill="#000" stroke="#f83658"/>
<rect x="426" y="123" width="1" height="49" fill="#3ac883"/>
<rect x="422" y="136" width="9" height="35" fill="#3ac883"/>
<rect x="436" y="149" width="1" height="35" fill="#3ac883"/>
<rect x="432" y="172" width="9" height="11" fill="#3ac883"/>
<rect x="446" y="165" width="1" height="14" fill="#f83658"/>
<rect x="446" y="184" width="1" height="14" fill="#f83658"/>
<rect x="442.5" y="179.5" width="8" height="4" fill="#000" stroke="#f83658"/>
<rect x="456" y="151" width="1" height="54" fill="#3ac883"/>
<rect x="452" y="178" width="9" height="21" fill="#3ac883"/>
<rect x="466" y="141" width="1" height="7" fill="#f83658"/>
<rect x="466" y="199" width="1" height="3" fill="#f83658"/>
<rect x="462.5" y="148.5" width="8" height="50" fill="#000" stroke="#f83658"/>
<rect x="476" y="130" width="1" height="41" fill="#3ac883"/>
<rect x="472" y="152" width="9" height="17" fill="#3ac883"/>
<rect x="486" y="152" width="1" height="35" fill="#3ac883"/>
<rect x="482" y="173" width="9" height="8" fill="#3ac883"/>
<rect x="496" y="164" width="1" height="16" fill="#f83658"/>
<rect x="496" y="182" width="1" height="7" fill="#f83658"/>
<rect x="492.5" y="180.5" width="8" height="1" fill="#000" stroke="#f83658"/>
<rect x="506" y="149" width="1" height="6" fill="#f83658"/>
<rect x="502.5" y="155.5" width="8" height="28" fill="#000" stroke="#f83658"/>
<rect x="516" y="152" width="1" height="35" fill="#3ac883"/>
<rect x="512" y="154" width="9" height="17" fill="#3ac883"/>
<rect x="526" y="147" width="1" height="19" fill="#f83658"/>
<rect x="522.5" y="166.5" width="8" height="7" fill="#000" stroke="#f83658"/>
<rect x="536" y="152" width="1" height="27" fill="#3ac883"/>
<rect x="532" y="166" width="9" height="12" fill="#3ac883"/>
<rect x="546" y="131" width="1" height="4" fill="#f83658"/>
<rect x="542.5" y="135.5" width="8" height="43" fill="#000" stroke="#f83658"/>
<rect x="556" y="111" width="1" height="28" fill="#f83658"/>
<rect x="552.5" y="139.5" width="8" height="1" fill="#000" stroke="#f83658"/>
<rect x="566" y="133" width="1" height="31" fill="#3ac883"/>
<rect x="562" y="140" width="9" height="22" fill="#3ac883"/>
<rect x="576" y="154" width="1" height="23" fill="#3ac883"/>
<rect x="572" y="162" width="9" height="8" fill="#3ac883"/>
<rect x="586" y="151" width="1" height="11" fill="#f83658"/>
<rect x="586" y="171" width="1" height="8" fill="#f83658"/>
<rect x="582.5" y="162.5" width="8" height="8" fill="#000" stroke="#f83658"/>
<rect x="596" y="155" width="1" height="23" fill="#3ac883"/>
<rect x="592" y="162" width="9" height="4" fill="#3ac883"/>
<rect x="606" y="131" width="1" height="4" fill="#f83658"/>
<rect x="606" y="167" width="1" height="1" fill="#f83658"/>
<rect x="602.5" y="135.5" width="8" height="31" fill="#000" stroke="#f83658"/>
<rect x="616" y="131" width="1" height="27" fill="#3ac883"/>
<rect x="612" y="135" width="9" height="16" fill="#3ac883"/>
<rect x="626" y="128" width="1" height="8" fill="#f83658"/>
<rect x="626" y="152" width="1" height="4" fill="#f83658"/>
<rect x="622.5" y="136.5" width="8" height="15" fill="#000" stroke="#f83658"/>
<rect x="636" y="111" width="1" height="18" fill="#f83658"/>
<rect x="636" y="136" width="1" height="2" fill="#f83658"/>
<rect x="632.5" y="129.5" width="8" height="6" fill="#000" stroke="#f83658"/>
<rect x="646" y="122" width="1" height="19" fill="#3ac883"/>
<rect x="642" y="130" width="9" height="5" fill="#3ac883"/>
<rect x="656" y="113" width="1" height="11" fill="#f83658"/>
<rect x="652.5" y="124.5" width="8" height="10" fill="#000" stroke="#f83658"/>
<rect x="666" y="113" width="1" height="7" fill="#f83658"/>
<rect x="666" y="123" width="1" height="13" fill="#f83658"/>
<rect x="662.5" y="120.5" width="8" height="2" fill="#000" stroke="#f83658"/>
<rect x="676" y="107" width="1" height="26" fill="#3ac883"/>
<rect x="672" y="121" width="9" height="11" fill="#3ac883"/>
<rect x="686" y="113" width="1" height="2" fill="#f83658"/>
<rect x="686" y="131" width="1" height="12" fill="#f83658"/>
<rect x="682.5" y="115.5" width="8" height="15" fill="#000" stroke="#f83658"/>
<rect x="696" y="113" width="1" height="38" fill="#3ac883"/>
<rect x="692" y="116" width="9" height="22" fill="#3ac883"/>
<rect x="706" y="105" width="1" height="15" fill="#f83658"/>
<rect x="706" y="138" width="1" height="10" fill="#f83658"/>
<rect x="702.5" y="120.5" width="8" height="17" fill="#000" stroke="#f83658"/>
<rect x="716" y="108" width="1" height="40" fill="#3ac883"/>
<rect x="712" y="120" width="9" height="25" fill="#3ac883"/>
<rect x="726" y="111" width="1" height="16" fill="#f83658"/>
<rect x="722.5" y="127.5" width="8" height="18" fill="#000" stroke="#f83658"/>
<rect x="736" y="125" width="1" height="34" fill="#3ac883"/>
<rect x="732" y="130" width="9" height="11" fill="#3ac883"/>
<rect x="746" y="133" width="1" height="25" fill="#3ac883"/>
<rect x="742" y="148" width="9" height="10" fill="#3ac883"/>
<rect x="756" y="149" width="1" height="5" fill="#f83658"/>
<rect x="756" y="171" width="1" height="25" fill="#f83658"/>
<rect x="752.5" y="154.5" width="8" height="16" fill="#000" stroke="#f83658"/>
<rect x="766" y="120" width="1" height="18" fill="#f83658"/>
<rect x="762.5" y="138.5" width="8" height="15" fill="#000" stroke="#f83658"/>
<rect x="776" y="123" width="1" height="3" fill="#f83658"/>
<rect x="776" y="138" width="1" height="1" fill="#f83658"/>
<rect x="772.5" y="126.5" width="8" height="11" fill="#000" stroke="#f83658"/>
<rect x="786" y="97" width="1" height="11" fill="#f83658"/>
<rect x="786" y="124" width="1" height="5" fill="#f83658"/>
<rect x="782.5" y="108.5" width="8" height="15" fill="#000" stroke="#f83658"/>
<rect x="796" y="99" width="1" height="27" fill="#3ac883"/>
<rect x="792" y="108" width="9" height="9" fill="#3ac883"/>
<rect x="806" y="88" width="1" height="2" fill="#f83658"/>
<rect x="806" y="113" width="1" height="6" fill="#f83658"/>
<rect x="802.5" y="90.5" width="8" height="22" fill="#000" stroke="#f83658"/>
<rect x="816" y="83" width="1" height="6" fill="#f83658"/>
<rect x="816" y="91" width="1" height="12" fill="#f83658"/>
<rect x="812.5" y="89.5" width="8" height="1" fill="#000" stroke="#f83658"/>
<rect x="826" y="85" width="1" height="4" fill="#f83658"/>
<rect x="826" y="94" width="1" height="14" fill="#f83658"/>
<rect x="822.5" y="89.5" width="8" height="4" fill="#000" stroke="#f83658"/>
<rect x="836" y="85" width="1" height="26" fill="#3ac883"/>
<rect x="832" y="89" width="9" height="5" fill="#3ac883"/>
<rect x="846" y="90" width="1" height="17" fill="#3ac883"/>
<rect x="842" y="95" width="9" height="11" fill="#3ac883"/>
<rect x="856" y="102" width="1" height="36" fill="#3ac883"/>
<rect x="852" y="106" width="9" height="30" fill="#3ac883"/>
<rect x="866" y="101" width="1" height="15" fill="#f83658"/>
<rect x="862.5" y="116.5" width="8" height="20" fill="#000" stroke="#f83658"/>
<rect x="876" y="106" width="1" height="8" fill="#f83658"/>
<rect x="876" y="119" width="1" height="6" fill="#f83658"/>
<rect x="872.5" y="114.5" width="8" height="4" fill="#000" stroke="#f83658"/>
<rect x="886" y="83" width="1" height="4" fill="#f83658"/>
<rect x="886" y="113" width="1" height="4" fill="#f83658"/>
<rect x="882.5" y="87.5" width="8" height="25" fill="#000" stroke="#f83658"/>
<rect x="896" y="81" width="1" height="20" fill="#3ac883"/>
<rect x="892" y="86" width="9" height="6" fill="#3ac883"/>
<rect x="906" y="85" width="1" height="23" fill="#3ac883"/>
<rect x="902" y="101" width="9" height="7" fill="#3ac883"/>
<rect x="916" y="91" width="1" height="35" fill="#3ac883"/>
<rect x="912" y="108" width="9" height="16" fill="#3ac883"/>
<rect x="926" y="103" width="1" height="15" fill="#f83658"/>
<rect x="926" y="123" width="1" height="10" fill="#f83658"/>
<rect x="922.5" y="118.5" width="8" height="4" fill="#000" stroke="#f83658"/>
<rect x="936" y="115" width="1" height="39" fill="#3ac883"/>
<rect x="932" y="118" width="9" height="20" fill="#3ac883"/>
<rect x="946" y="109" width="1" height="19" fill="#f83658"/>
<rect x="946" y="138" width="1" height="3" fill="#f83658"/>
<rect x="942.5" y="128.5" width="8" height="9" fill="#000" stroke="#f83658"/>
<rect x="956" y="112" width="1" height="8" fill="#f83658"/>
<rect x="956" y="124" width="1" height="8" fill="#f83658"/>
<rect x="952.5" y="120.5" width="8" height="3" fill="#000" stroke="#f83658"/>
<rect x="966" y="101" width="1" height="3" fill="#f83658"/>
<rect x="966" y="119" width="1" height="10" fill="#f83658"/>
<rect x="962.5" y="104.5" width="8" height="14" fill="#000" stroke="#f83658"/>
<rect x="976" y="77" width="1" height="2" fill="#f83658"/>
<rect x="976" y="103" width="1" height="4" fill="#f83658"/>
<rect x="972.5" y="79.5" width="8" height="23" fill="#000" stroke="#f83658"/>
<rect x="986" y="67" width="1" height="19" fill="#3ac883"/>
<rect x="982" y="81" width="9" height="4" fill="#3ac883"/>
<rect x="996" y="79" width="1" height="25" fill="#3ac883"/>
<rect x="992" y="85" width="9" height="13" fill="#3ac883"/>
<rect x="1006" y="86" width="1" height="38" fill="#3ac883"/>
<rect x="1002" y="94" width="9" height="27" fill="#3ac883"/>
<rect x="1016" y="115" width="1" height="18" fill="#3ac883"/>
<rect x="1012" y="121" width="9" height="6" fill="#3ac883"/>
<rect x="1026" y="116" width="1" height="53" fill="#3ac883"/>
<rect x="1022" y="127" width="9" height="39" fill="#3ac883"/>
<rect x="1036" y="143" width="1" height="28" fill="#3ac883"/>
<rect x="1032" y="166" width="9" height="5" fill="#3ac883"/>
<rect x="1046" y="134" width="1" height="12" fill="#f83658"/>
<rect x="1046" y="171" width="1" height="2" fill="#f83658"/>
<rect x="1042.5" y="146.5" width="8" height="24" fill="#000" stroke="#f83658"/>
<rect x="1056" y="136" width="1" height="15" fill="#f83658"/>
<rect x="1052" y="149" width="9" height="1" fill="#f83658"/>
<rect x="1066" y="141" width="1" height="5" fill="#f83658"/>
<rect x="1066" y="149" width="1" height="8" fill="#f83658"/>
<rect x="1062.5" y="146.5" width="8" height="2" fill="#000" stroke="#f83658"/>
<rect x="1076" y="126" width="1" height="6" fill="#f83658"/>
<rect x="1072.5" y="132.5" width="8" height="18" fill="#000" stroke="#f83658"/>
<rect x="1086" y="109" width="1" height="11" fill="#f83658"/>
<rect x="1086" y="131" width="1" height="5" fill="#f83658"/>
<rect x="1082.5" y="120.5" width="8" height="10" fill="#000" stroke="#f83658"/>
<rect x="1096" y="112" width="1" height="12" fill="#3ac883"/>
<rect x="1092" y="120" width="9" height="2" fill="#3ac883"/>
<rect x="1106" y="116" width="1" height="7" fill="#f83658"/>
<rect x="1102" y="120" width="9" height="1" fill="#f83658"/>
<polyline points="96.5,183.3 106.5,186 116.5,188.4 126.5,189 136.5,189.6 146.5,193.2 156.5,195 166.5,195.6 176.5,197.5 186.5,197.5 196.5,167 206.5,145 216.5,130.3 226.5,132.3 236.5,134.3 246.5,136.5 256.5,141.2 266.5,142.6 276.5,141.2 286.5,136 296.5,129.5 306.5,121.5 316.5,117.2 326.5,113.5 336.5,108.4 346.5,102.4 356.5,93.9 366.5,88.7 376.5,84.2 386.5,81.3 396.5,81.3 406.5,90.1 416.5,113 426.5,129 436.5,138 446.5,141.3 456.5,143.5 466.5,139.7 476.5,139.4 486.5,139.4 496.5,139.4 506.5,136.1 516.5,137.5 526.5,138.4 536.5,138.4 546.5,132.1 556.5,128.5 566.5,128.5 576.5,128.5 586.5,129.9 596.5,129.5 606.5,126.4 616.5,129.4 626.5,125.1 636.5,120.9 646.5,118.4 656.5,115.2 666.5,112.1 676.5,109.5 686.5,106.1 696.5,106.5 706.5,104.2 716.5,104.2 726.5,103.6 736.5,106.1 746.5,106.1 756.5,106.1 766.5,107 776.5,106.8 786.5,104.7 796.5,104 806.5,95.8 816.5,90.1 826.5,85.4 836.5,81 846.5,79.3 856.5,78.7 866.5,77.8 876.5,77.8 886.5,74 896.5,71.1 906.5,70.2 916.5,71.1 926.5,70.2 936.5,71.6 946.5,73.7 956.5,76.2 966.5,77.1 976.5,71.8 986.5,69 996.5,69 1006.5,70.9 1016.5,73.2 1026.5,69.9 1036.5,67.7 1046.5,68.4 1056.5,67.5 1066.5,67.5 1076.5,68 1086.5,71.5 1096.5,75.6 1106.5,77.9" fill="none" stroke="#d6d60c" stroke-width="1"/>
<polyline points="96.5,232.3 106.5,233 116.5,234.6 126.5,235 136.5,233.2 146.5,231.7 156.5,230.4 166.5,230.4 176.5,231 186.5,231 196.5,239.3 206.5,247.5 216.5,254.5 226.5,259.2 236.5,260.8 246.5,262.5 256.5,263.4 266.5,263.4 276.5,262.5 286.5,261 296.5,258.5 306.5,255.3 316.5,253.3 326.5,251.3 336.5,248.5 346.5,246.5 356.5,242.3 366.5,239.3 376.5,236.5 386.5,235.3 396.5,224 406.5,211 416.5,198 426.5,191.6 436.5,186.3 446.5,183.6 456.5,182.1 466.5,179.2 476.5,177.3 486.5,177 496.5,176.4 506.5,175.1 516.5,173.2 526.5,171.6 536.5,171.1 546.5,168.8 556.5,167.5 566.5,166.3 576.5,165 586.5,163.7 596.5,163.8 606.5,163.4 616.5,164.4 626.5,162.1 636.5,159.6 646.5,157.3 656.5,153.5 666.5,152 676.5,149.7 686.5,147.5 696.5,145.4 706.5,143.7 716.5,142.1 726.5,140.2 736.5,138.7 746.5,139.3 756.5,140.2 766.5,138.4 776.5,135.7 786.5,132.8 796.5,130.6 806.5,128.1 816.5,125.2 826.5,123 836.5,121.5 846.5,120.5 856.5,121.1 866.5,121.1 876.5,119.6 886.5,117.7 896.5,116.1 906.5,115.8 916.5,115.8 926.5,115.8 936.5,114.2 946.5,111.7 956.5,110.8 966.5,109.4 976.5,107 986.5,106 996.5,105.1 1006.5,106.4 1016.5,108.9 1026.5,112.3 1036.5,115.5 1046.5,117.4 1056.5,118.4 1066.5,119.9 1076.5,121.2 1086.5,122.5 1096.5,124 1106.5,124.4" fill="none" stroke="#f0f0f0" stroke-width="1"/>
<polyline points="96.5,280 106.5,281.5 116.5,281.5 126.5,281.5 136.5,277.3 146.5,268.3 156.5,265.5 166.5,265.5 176.5,265.5 186.5,265.5 196.5,310 206.5,345 216.5,379.7 226.5,385.4 236.5,387.3 246.5,387.3 256.5,385.4 266.5,385.4 276.5,385.4 286.5,386.5 296.5,388 306.5,389 316.5,389.5 326.5,390 336.5,390.5 346.5,391.5 356.5,390.5 366.5,389.4 376.5,388.8 386.5,388.3 396.5,367 406.5,331.7 416.5,279.7 426.5,253 436.5,236 446.5,225.2 456.5,220.6 466.5,217.6 476.5,215.3 486.5,215.3 496.5,213.4 506.5,213.4 516.5,208.7 526.5,205.2 536.5,204.3 546.5,205.2 556.5,206.2 566.5,203.9 576.5,202 586.5,198.6 596.5,198.8 606.5,200.4 616.5,199.1 626.5,199.5 636.5,198.5 646.5,196.3 656.5,190.6 666.5,192.5 676.5,190.6 686.5,188.1 696.5,183.9 706.5,182 716.5,179.5 726.5,176.7 736.5,170.6 746.5,172.5 756.5,172.5 766.5,169.3 776.5,165.1 786.5,162.3 796.5,158.1 806.5,162.7 816.5,162.7 826.5,163.2 836.5,163.2 846.5,162.3 856.5,163.2 866.5,163.2 876.5,162.3 886.5,163.2 896.5,162.3 906.5,160.4 916.5,158.5 926.5,158.1 936.5,156.5 946.5,151.6 956.5,145.3 966.5,141.5 976.5,141.5 986.5,141.5 996.5,140.2 1006.5,142.1 1016.5,144.4 1026.5,154.4 1036.5,163.9 1046.5,168.1 1056.5,169.6 1066.5,172.1 1076.5,173.4 1086.5,172.5 1096.5,172.5 1106.5,172.5" fill="none" stroke="#e01ee0" stroke-width="1"/>
<line x1="91" y1="119.5" x2="1217" y2="119.5" stroke="#f0a030" stroke-dasharray="3 3"/>
<rect x="1217.5" y="119.5" width="68" height="17" fill="#000" stroke="#f0a030"/>
<text x="1220.3" y="131.3" fill="#f0a030" font-size="12" textLength="37.4" lengthAdjust="spacingAndGlyphs">0.6522</text>
<path d="M1281 110.8 L1285.2 115 L1276.8 115 Z M1281 115.2 L1285.3 119.5 L1276.7 119.5 Z" fill="#f2a63a" shape-rendering="auto"/>
<rect x="223" y="435" width="7" height="1" fill="#ffffff"/>
<rect x="226" y="433" width="1" height="5" fill="#ffffff"/>
<text x="231" y="447.3" fill="#3ac883" font-size="12" font-weight="bold" textLength="37.5" lengthAdjust="spacingAndGlyphs">0.5913</text>
<rect x="753" y="196" width="7" height="1" fill="#ffffff"/>
<rect x="756" y="194" width="1" height="5" fill="#ffffff"/>
<text x="761.3" y="207.8" fill="#3ac883" font-size="12" font-weight="bold" textLength="37.5" lengthAdjust="spacingAndGlyphs">0.6372</text>
<rect x="983" y="66" width="7" height="1" fill="#ffffff"/>
<rect x="986" y="64" width="1" height="5" fill="#ffffff"/>
<text x="991.8" y="63" fill="#f83658" font-size="12" font-weight="bold" textLength="37.5" lengthAdjust="spacingAndGlyphs">0.6624</text>
<rect x="1043" y="173" width="7" height="1" fill="#ffffff"/>
<rect x="1046" y="171" width="1" height="5" fill="#ffffff"/>
<text x="1051.3" y="185.3" fill="#3ac883" font-size="12" font-weight="bold" textLength="37.5" lengthAdjust="spacingAndGlyphs">0.6418</text>
<rect x="96" y="540" width="1" height="4" fill="#3ac883"/>
<rect x="106" y="540" width="1" height="8" fill="#3ac883"/>
<rect x="116" y="540" width="1" height="8" fill="#3ac883"/>
<rect x="126" y="540" width="1" height="8" fill="#3ac883"/>
<rect x="136" y="540" width="1" height="8" fill="#3ac883"/>
<rect x="146" y="540" width="1" height="9" fill="#3ac883"/>
<rect x="156" y="540" width="1" height="14" fill="#3ac883"/>
<rect x="166" y="540" width="1" height="13" fill="#3ac883"/>
<rect x="176" y="540" width="1" height="9" fill="#3ac883"/>
<rect x="186" y="540" width="1" height="1" fill="#3ac883"/>
<rect x="196" y="540" width="1" height="35" fill="#3ac883"/>
<rect x="206" y="540" width="1" height="60" fill="#3ac883"/>
<rect x="216" y="540" width="1" height="74" fill="#3ac883"/>
<rect x="226" y="540" width="1" height="56" fill="#3ac883"/>
<rect x="236" y="540" width="1" height="33" fill="#3ac883"/>
<rect x="246" y="540" width="1" height="7" fill="#3ac883"/>
<rect x="256" y="524" width="1" height="16" fill="#f83658"/>
<rect x="266" y="508" width="1" height="32" fill="#f83658"/>
<rect x="276" y="496" width="1" height="44" fill="#f83658"/>
<rect x="286" y="487" width="1" height="53" fill="#f83658"/>
<rect x="296" y="487" width="1" height="53" fill="#f83658"/>
<rect x="306" y="486" width="1" height="54" fill="#f83658"/>
<rect x="316" y="491" width="1" height="49" fill="#f83658"/>
<rect x="326" y="499" width="1" height="41" fill="#f83658"/>
<rect x="336" y="500" width="1" height="40" fill="#f83658"/>
<rect x="346" y="504" width="1" height="36" fill="#f83658"/>
<rect x="356" y="505" width="1" height="35" fill="#f83658"/>
<rect x="366" y="513" width="1" height="27" fill="#f83658"/>
<rect x="376" y="518" width="1" height="22" fill="#f83658"/>
<rect x="386" y="524" width="1" height="16" fill="#f83658"/>
<rect x="396" y="523" width="1" height="17" fill="#f83658"/>
<rect x="406" y="520" width="1" height="20" fill="#f83658"/>
<rect x="416" y="517" width="1" height="23" fill="#f83658"/>
<rect x="426" y="524" width="1" height="16" fill="#f83658"/>
<rect x="436" y="535" width="1" height="5" fill="#f83658"/>
<rect x="446" y="540" width="1" height="2" fill="#3ac883"/>
<rect x="456" y="540" width="1" height="12" fill="#3ac883"/>
<rect x="466" y="540" width="1" height="5" fill="#3ac883"/>
<rect x="476" y="540" width="1" height="6" fill="#3ac883"/>
<rect x="486" y="540" width="1" height="11" fill="#3ac883"/>
<rect x="496" y="540" width="1" height="13" fill="#3ac883"/>
<rect x="506" y="540" width="1" height="9" fill="#3ac883"/>
<rect x="516" y="540" width="1" height="9" fill="#3ac883"/>
<rect x="526" y="540" width="1" height="9" fill="#3ac883"/>
<rect x="536" y="540" width="1" height="12" fill="#3ac883"/>
<rect x="546" y="540" width="1" height="3" fill="#3ac883"/>
<rect x="556" y="538" width="1" height="2" fill="#f83658"/>
<rect x="566" y="540" width="1" height="3" fill="#3ac883"/>
<rect x="576" y="540" width="1" height="7" fill="#3ac883"/>
<rect x="586" y="540" width="1" height="8" fill="#3ac883"/>
<rect x="596" y="540" width="1" height="9" fill="#3ac883"/>
<rect x="606" y="540" width="1" height="3" fill="#3ac883"/>
<rect x="616" y="540" width="1" height="4" fill="#3ac883"/>
<rect x="626" y="539" width="1" height="1" fill="#f83658"/>
<rect x="636" y="536" width="1" height="4" fill="#f83658"/>
<rect x="646" y="536" width="1" height="4" fill="#f83658"/>
<rect x="656" y="534" width="1" height="6" fill="#f83658"/>
<rect x="666" y="533" width="1" height="7" fill="#f83658"/>
<rect x="676" y="535" width="1" height="5" fill="#f83658"/>
<rect x="686" y="534" width="1" height="6" fill="#f83658"/>
<rect x="696" y="539" width="1" height="1" fill="#f83658"/>
<rect x="706" y="539" width="1" height="1" fill="#f83658"/>
<rect x="716" y="540" width="1" height="6" fill="#3ac883"/>
<rect x="726" y="540" width="1" height="6" fill="#3ac883"/>
<rect x="736" y="540" width="1" height="10" fill="#3ac883"/>
<rect x="746" y="540" width="1" height="16" fill="#3ac883"/>
<rect x="756" y="540" width="1" height="18" fill="#3ac883"/>
<rect x="766" y="540" width="1" height="15" fill="#3ac883"/>
<rect x="776" y="540" width="1" height="10" fill="#3ac883"/>
<rect x="786" y="540" width="1" height="2" fill="#3ac883"/>
<rect x="796" y="539" width="1" height="1" fill="#f83658"/>
<rect x="806" y="531" width="1" height="9" fill="#f83658"/>
<rect x="816" y="527" width="1" height="13" fill="#f83658"/>
<rect x="826" y="525" width="1" height="15" fill="#f83658"/>
<rect x="836" y="527" width="1" height="13" fill="#f83658"/>
<rect x="846" y="532" width="1" height="8" fill="#f83658"/>
<rect x="856" y="540" width="1" height="4" fill="#3ac883"/>
<rect x="866" y="540" width="1" height="7" fill="#3ac883"/>
<rect x="876" y="540" width="1" height="8" fill="#3ac883"/>
<rect x="886" y="540" width="1" height="2" fill="#3ac883"/>
<rect x="896" y="539" width="1" height="1" fill="#f83658"/>
<rect x="906" y="540" width="1" height="3" fill="#3ac883"/>
<rect x="916" y="540" width="1" height="9" fill="#3ac883"/>
<rect x="926" y="540" width="1" height="11" fill="#3ac883"/>
<rect x="936" y="540" width="1" height="17" fill="#3ac883"/>
<rect x="946" y="540" width="1" height="18" fill="#3ac883"/>
<rect x="956" y="540" width="1" height="16" fill="#3ac883"/>
<rect x="966" y="540" width="1" height="11" fill="#3ac883"/>
<rect x="976" y="539" width="1" height="1" fill="#f83658"/>
<rect x="986" y="535" width="1" height="5" fill="#f83658"/>
<rect x="996" y="536" width="1" height="4" fill="#f83658"/>
<rect x="1006" y="540" width="1" height="3" fill="#3ac883"/>
<rect x="1016" y="540" width="1" height="9" fill="#3ac883"/>
<rect x="1026" y="540" width="1" height="22" fill="#3ac883"/>
<rect x="1036" y="540" width="1" height="30" fill="#3ac883"/>
<rect x="1046" y="540" width="1" height="28" fill="#3ac883"/>
<rect x="1056" y="540" width="1" height="26" fill="#3ac883"/>
<rect x="1066" y="540" width="1" height="22" fill="#3ac883"/>
<rect x="1076" y="540" width="1" height="15" fill="#3ac883"/>
<rect x="1086" y="540" width="1" height="7" fill="#3ac883"/>
<rect x="1096" y="540" width="1" height="3" fill="#3ac883"/>
<rect x="1106" y="538" width="1" height="2" fill="#f83658"/>
<polyline points="96.5,533.2 106.5,535.7 116.5,537.3 126.5,538.3 136.5,539.1 146.5,540.7 156.5,544.7 166.5,546.8 176.5,545.2 186.5,541.7 196.5,561.9 206.5,582.1 216.5,599.9 226.5,597.3 236.5,589.2 246.5,578.1 256.5,563.9 266.5,550.8 276.5,539.7 286.5,530 296.5,523.1 306.5,516.1 316.5,512.4 326.5,511 336.5,506.8 346.5,504.3 356.5,500.3 366.5,501.3 376.5,501.3 386.5,503.3 396.5,500.3 406.5,495.3 416.5,490.8 426.5,494.2 436.5,498.3 446.5,502.3 456.5,507.4 466.5,505.4 476.5,506.4 486.5,510.4 496.5,513.4 506.5,511.4 516.5,513 526.5,514.4 536.5,517.5 546.5,512.4 556.5,510.4 566.5,512.4 576.5,515.5 586.5,517.5 596.5,519.1 606.5,516.5 616.5,517.5 626.5,515.5 636.5,513 646.5,512 656.5,511 666.5,509.4 676.5,510.4 686.5,508.4 696.5,511 706.5,511.4 716.5,515.5 726.5,515.5 736.5,518.9 746.5,523.5 756.5,527.6 766.5,527.6 776.5,526.2 786.5,522.5 796.5,520.5 806.5,515.9 816.5,512.4 826.5,510.4 836.5,509.4 846.5,510.4 856.5,515.9 866.5,518.5 876.5,520.5 886.5,518.1 896.5,516.5 906.5,518.5 916.5,522.5 926.5,524.5 936.5,530 946.5,532.2 956.5,533.2 966.5,530.6 976.5,526.6 986.5,524.1 996.5,524.1 1006.5,527.6 1016.5,531.6 1026.5,540.7 1036.5,548.4 1046.5,550.8 1056.5,552.8 1066.5,553.8 1076.5,551.8 1086.5,548.8 1096.5,547.4 1106.5,545.2" fill="none" stroke="#f0f0f0" stroke-width="1"/>
<polyline points="96.5,531 106.5,532.2 116.5,533.6 126.5,534.6 136.5,535.7 146.5,536.7 156.5,538.1 166.5,539.7 176.5,540.3 186.5,540.7 196.5,545.8 206.5,553.8 216.5,562.9 226.5,569 236.5,573 246.5,574.4 256.5,573 266.5,569 276.5,563.9 286.5,556.9 296.5,549.8 306.5,541.7 316.5,535.7 326.5,530.6 336.5,525.6 346.5,522.1 356.5,517.5 366.5,513.8 376.5,511.8 386.5,509.4 396.5,507.4 406.5,504.7 416.5,502.9 426.5,500.9 436.5,500.3 446.5,501.3 456.5,502.3 466.5,502.3 476.5,502.9 486.5,504.7 496.5,506.4 506.5,507.8 516.5,508.4 526.5,509.8 536.5,511.4 546.5,511.8 556.5,511.4 566.5,511.8 576.5,512.8 586.5,513.8 596.5,514.4 606.5,515.5 616.5,515.5 626.5,515.5 636.5,514.8 646.5,514 656.5,513.4 666.5,513 676.5,512.4 686.5,511.4 696.5,511.4 706.5,511.4 716.5,512.4 726.5,512.4 736.5,514.4 746.5,516.5 756.5,518.5 766.5,520.5 776.5,521.5 786.5,521.9 796.5,521.5 806.5,519.9 816.5,518.5 826.5,517.5 836.5,515.5 846.5,514 856.5,514.8 866.5,515.5 876.5,516.5 886.5,516.5 896.5,516.5 906.5,517.5 916.5,518.5 926.5,519.9 936.5,521.9 946.5,523.5 956.5,525.2 966.5,527.2 976.5,526.2 986.5,526.2 996.5,525.2 1006.5,526.2 1016.5,527.6 1026.5,530.6 1036.5,533.6 1046.5,537.3 1056.5,540.3 1066.5,543.1 1076.5,545.4 1086.5,545.8 1096.5,546.8 1106.5,545.8" fill="none" stroke="#d6d60c" stroke-width="1"/>
<polyline points="96.5,701.9 106.5,710 116.5,711.4 126.5,712.4 136.5,712.4 146.5,715.6 156.5,719.4 166.5,715 176.5,704.9 186.5,698.2 196.5,707.9 206.5,716 216.5,724.5 226.5,715.4 236.5,703.3 246.5,692.8 256.5,683.3 266.5,675.2 276.5,669.5 286.5,664.5 296.5,662.5 306.5,660.1 316.5,664.5 326.5,670 336.5,670 346.5,674.1 356.5,669.1 366.5,680.7 376.5,685.7 386.5,693.2 396.5,685.1 406.5,678.6 416.5,672.2 426.5,683.7 436.5,695.8 446.5,701.9 456.5,712.6 466.5,701.5 476.5,701.5 486.5,706.9 496.5,709.5 506.5,701.5 516.5,701.5 526.5,699.4 536.5,702.5 546.5,687.3 556.5,686.1 566.5,694.8 576.5,703.9 586.5,706.5 596.5,709.3 606.5,699.8 616.5,701.5 626.5,695.8 636.5,689.7 646.5,687.3 656.5,680.7 666.5,675.2 676.5,677 686.5,672.2 696.5,684.7 706.5,683.3 716.5,697.2 726.5,696.8 736.5,702.3 746.5,715 756.5,709.9 766.5,700.9 776.5,690.8 786.5,681.1 796.5,676.6 806.5,669.1 816.5,664.9 826.5,662.5 836.5,661.5 846.5,667.9 856.5,691.8 866.5,696.2 876.5,697.2 886.5,683.3 896.5,679 906.5,684.7 916.5,695.8 926.5,700.3 936.5,706.9 946.5,708.3 956.5,705.3 966.5,695.8 976.5,682.7 986.5,678.2 996.5,680.1 1006.5,690.8 1016.5,698.4 1026.5,711.4 1036.5,722.5 1046.5,721.5 1056.5,721.5 1066.5,721.5 1076.5,713.4 1086.5,703.9 1096.5,693.2 1106.5,685.1" fill="none" stroke="#f0f0f0" stroke-width="1"/>
<polyline points="96.5,688.1 106.5,694.8 116.5,699.8 126.5,703.9 136.5,706.9 146.5,710 156.5,713.4 166.5,713.6 176.5,711 186.5,706.5 196.5,707.3 206.5,710 216.5,715 226.5,715 236.5,711.6 246.5,705.3 256.5,697.8 266.5,689.7 276.5,682.7 286.5,676.2 296.5,672.2 306.5,668.5 316.5,667.5 326.5,668.5 336.5,668.5 346.5,670.2 356.5,670 366.5,673.6 376.5,677.6 386.5,683.3 396.5,684.7 406.5,682.3 416.5,679.2 426.5,680.3 436.5,685.7 446.5,690.8 456.5,698.2 466.5,699.4 476.5,699.4 486.5,702.5 496.5,704.3 506.5,703.3 516.5,703.3 526.5,701.9 536.5,702.3 546.5,697.8 556.5,693.4 566.5,693.4 576.5,696.8 586.5,700.3 596.5,703.3 606.5,702.3 616.5,702.3 626.5,699.8 636.5,695.8 646.5,692.8 656.5,688.7 666.5,684.3 676.5,681.7 686.5,679.2 696.5,680.3 706.5,681.1 716.5,686.1 726.5,690.2 736.5,694.2 746.5,701.5 756.5,704.3 766.5,703.3 776.5,699.2 786.5,693.4 796.5,687.7 806.5,681.7 816.5,675.6 826.5,671 836.5,668.1 846.5,668.1 856.5,676.6 866.5,682.7 876.5,687.3 886.5,686.1 896.5,684.3 906.5,684.7 916.5,688.1 926.5,692.2 936.5,697.2 946.5,701.3 956.5,702.5 966.5,699.8 976.5,694.4 986.5,689.3 996.5,686.1 1006.5,687.3 1016.5,691.2 1026.5,698.4 1036.5,706.5 1046.5,711.6 1056.5,714.6 1066.5,717.6 1076.5,716.4 1086.5,712.6 1096.5,706.9 1106.5,699.2" fill="none" stroke="#d6d60c" stroke-width="1"/>
<polyline points="96.5,731.2 106.5,738.2 116.5,731.2 126.5,728.1 136.5,722.1 146.5,727.1 156.5,731.6 166.5,718 176.5,692.8 186.5,681.3 196.5,712 206.5,730.2 216.5,742.3 226.5,716 236.5,690.8 246.5,670.6 256.5,655.4 266.5,647.3 276.5,641.3 286.5,638.2 296.5,641.3 306.5,644.3 316.5,660.5 326.5,674.6 336.5,672.6 346.5,682 356.5,667.5 366.5,695.8 376.5,700.3 386.5,714 396.5,690.8 406.5,673.6 416.5,659 426.5,687.7 436.5,714 446.5,723.1 456.5,741.7 466.5,705.3 476.5,705.3 486.5,715 496.5,719.4 506.5,698.2 516.5,698.2 526.5,694.2 536.5,703.3 546.5,667.1 556.5,671.6 566.5,694.8 576.5,715 586.5,718.4 596.5,722.5 606.5,697.2 616.5,700.9 626.5,686.7 636.5,674.2 646.5,675.2 656.5,664.1 666.5,656.4 676.5,668.5 686.5,660.5 696.5,690.4 706.5,684.7 716.5,719.4 726.5,711.4 736.5,719 746.5,742.3 756.5,718 766.5,699.4 776.5,678 786.5,657.4 796.5,656.4 806.5,645.3 816.5,643.3 826.5,642.3 836.5,648.3 846.5,667.5 856.5,721.1 866.5,722.1 876.5,716.6 886.5,679.6 896.5,668.1 906.5,684.7 916.5,712.4 926.5,716 936.5,728.1 946.5,723.1 956.5,709.9 966.5,690.8 976.5,658 986.5,657.4 996.5,668.9 1006.5,694.4 1016.5,712 1026.5,740.3 1036.5,753.4 1046.5,741.3 1056.5,735.2 1066.5,729.1 1076.5,709.9 1086.5,687.7 1096.5,667.5 1106.5,656.4" fill="none" stroke="#e01ee0" stroke-width="1"/>
<text x="92" y="14.3" fill="#f0f0f0" font-size="12">澳元美元</text>
<text x="140" y="14.3" fill="#f6ae46" font-size="12" font-weight="500">【日线】</text>
<g shape-rendering="auto" stroke="#f0a434" fill="none" stroke-width="1"><circle cx="193.5" cy="11.5" r="4"/><path d="M189.5 11.5H197.5M193.5 7.5V15.5"/></g>
<rect x="207" y="14" width="11" height="1" fill="#8a8a8a"/>
<rect x="217" y="3" width="1" height="12" fill="#8a8a8a"/>
<rect x="205.5" y="1.5" width="11" height="12" fill="#ffffff" stroke="#00008c"/>
<g shape-rendering="auto" fill="none" stroke-width="1.1"><polyline points="206.3,8.6 209.4,4.4 212.4,7.2 214.5,5.4 216.1,5.4" stroke="#f01010"/><polyline points="206.1,11.7 209.4,7.5 212.4,10.5 214.7,8.4 216.1,8.4" stroke="#1010f0"/></g>
<text x="221" y="13.8" fill="#f0f0f0" font-size="13" textLength="61" lengthAdjust="spacingAndGlyphs">BOLL(20,2)</text>
<text x="286.4" y="13.8" fill="#f0f0f0" font-size="13" textLength="64.7" lengthAdjust="spacingAndGlyphs">MID:0.6511</text>
<text x="361" y="13.8" fill="#d6d60c" font-size="13" textLength="77" lengthAdjust="spacingAndGlyphs">UPPER:0.6601</text>
<text x="448" y="13.8" fill="#e01ee0" font-size="13" textLength="83" lengthAdjust="spacingAndGlyphs">LOWER:0.6420</text>
<text x="93" y="477" fill="#f0f0f0" font-size="13" textLength="84.5" lengthAdjust="spacingAndGlyphs">MACD(26,12,9)</text>
<text x="182.8" y="477" fill="#f0f0f0" font-size="13" textLength="69.4" lengthAdjust="spacingAndGlyphs">DIFF:-0.0005</text>
<text x="261.5" y="477" fill="#d6d60c" font-size="13" textLength="69.2" lengthAdjust="spacingAndGlyphs">DEA:-0.0006</text>
<text x="340" y="477" fill="#e01ee0" font-size="13" textLength="76" lengthAdjust="spacingAndGlyphs">MACD:0.0002</text>
<text x="92.4" y="630.2" fill="#f0f0f0" font-size="13" textLength="55.8" lengthAdjust="spacingAndGlyphs">KDJ(9,3,3)</text>
<text x="153.7" y="630.2" fill="#f0f0f0" font-size="13" textLength="54.9" lengthAdjust="spacingAndGlyphs">K:65.2399</text>
<text x="217.3" y="630.2" fill="#d6d60c" font-size="13" textLength="56.2" lengthAdjust="spacingAndGlyphs">D:49.1172</text>
<text x="282.3" y="630.2" fill="#e01ee0" font-size="13" textLength="52.2" lengthAdjust="spacingAndGlyphs">J:97.4853</text>
<rect x="28" y="616" width="1" height="2" fill="#ff0000"/>
<rect x="28" y="628" width="1" height="2" fill="#ff0000"/>
<rect x="22" y="622" width="2" height="1" fill="#ff0000"/>
<rect x="34" y="622" width="2" height="1" fill="#ff0000"/>
<rect x="23" y="617" width="1" height="1" fill="#ff0000"/>
<rect x="24" y="618" width="1" height="1" fill="#ff0000"/>
<rect x="33" y="618" width="1" height="1" fill="#ff0000"/>
<rect x="34" y="617" width="1" height="1" fill="#ff0000"/>
<rect x="23" y="628" width="1" height="1" fill="#ff0000"/>
<rect x="24" y="627" width="1" height="1" fill="#ff0000"/>
<rect x="33" y="627" width="1" height="1" fill="#ff0000"/>
<rect x="34" y="628" width="1" height="1" fill="#ff0000"/>
<g shape-rendering="auto"><circle cx="29" cy="623" r="4.4" fill="#000"/><circle cx="29" cy="623" r="3.2" fill="#ffffff"/><circle cx="29" cy="623" r="1.9" fill="#ff0000"/></g>
<rect x="1154.5" y="1.5" width="13" height="13" fill="#000" stroke="#a8a8a8"/>
<rect x="1170.5" y="1.5" width="13" height="13" fill="#000" stroke="#a8a8a8"/>
<rect x="1186.5" y="1.5" width="13" height="13" fill="#000" stroke="#a8a8a8"/>
<rect x="1202.5" y="1.5" width="13" height="13" fill="#000" stroke="#a8a8a8"/>
<rect x="1160" y="3" width="2" height="3" fill="#b4b4b4"/>
<rect x="1160" y="7" width="2" height="2" fill="#b4b4b4"/>
<rect x="1160" y="10" width="2" height="3" fill="#b4b4b4"/>
<rect x="1156" y="7" width="3" height="2" fill="#b4b4b4"/>
<rect x="1163" y="7" width="3" height="2" fill="#b4b4b4"/>
<rect x="1173" y="4" width="1" height="9" fill="#b4b4b4"/>
<rect x="1172" y="5" width="3" height="1" fill="#b4b4b4"/>
<rect x="1172" y="11" width="10" height="1" fill="#b4b4b4"/>
<rect x="1180" y="10" width="1" height="3" fill="#b4b4b4"/>
<rect x="1173" y="10" width="1" height="3" fill="#b4b4b4"/>
<rect x="1189" y="4" width="1" height="9" fill="#b4b4b4"/>
<rect x="1188" y="5" width="3" height="1" fill="#b4b4b4"/>
<rect x="1188" y="11" width="10" height="1" fill="#b4b4b4"/>
<rect x="1196" y="10" width="1" height="3" fill="#b4b4b4"/>
<rect x="1189" y="10" width="1" height="3" fill="#b4b4b4"/>
<rect x="1176" y="4" width="1" height="6" fill="#b4b4b4"/>
<path d="M1180.5 4 L1177.3 7 L1180.5 10 Z" fill="#b4b4b4" shape-rendering="auto"/>
<path d="M1192.5 4 L1197.3 7.5 L1192.5 11 Z" fill="#b4b4b4" shape-rendering="auto"/>
<rect x="1204.5" y="3.5" width="3" height="9" fill="none" stroke="#b4b4b4"/>
<rect x="1207" y="7" width="4" height="2" fill="#b4b4b4"/>
<path d="M1210 5 L1213.3 8 L1210 11 Z" fill="#b4b4b4" shape-rendering="auto"/>
<text x="168" y="767.3" fill="#b2b6be" font-size="12" font-weight="bold" textLength="44.3" lengthAdjust="spacingAndGlyphs">2025/04</text>
<text x="388" y="767.3" fill="#b2b6be" font-size="12" font-weight="bold" textLength="44.3" lengthAdjust="spacingAndGlyphs">2025/05</text>
<text x="608" y="767.3" fill="#b2b6be" font-size="12" font-weight="bold" textLength="44.3" lengthAdjust="spacingAndGlyphs">2025/06</text>
<text x="818" y="767.3" fill="#b2b6be" font-size="12" font-weight="bold" textLength="44.3" lengthAdjust="spacingAndGlyphs">2025/07</text>
<text x="1048" y="767.3" fill="#b2b6be" font-size="12" font-weight="bold" textLength="44.3" lengthAdjust="spacingAndGlyphs">2025/08</text>
<text x="34" y="770.3" fill="#f7bb45" font-size="13" font-weight="bold" textLength="25" lengthAdjust="spacingAndGlyphs">日线</text>
<path d="M69 760.6 L73.3 769.3 L64.7 769.3 Z" fill="#f5b342" shape-rendering="auto"/>
<rect x="60" y="775" width="40" height="14" fill="#464858"/>
<rect x="238" y="775" width="40" height="14" fill="#464858"/>
<line x1="100.5" y1="775" x2="100.5" y2="789" stroke="#1e1e22"/>
<line x1="158.5" y1="775" x2="158.5" y2="789" stroke="#1e1e22"/>
<line x1="197.5" y1="775" x2="197.5" y2="789" stroke="#1e1e22"/>
<line x1="237.5" y1="775" x2="237.5" y2="789" stroke="#1e1e22"/>
<line x1="278.5" y1="775" x2="278.5" y2="789" stroke="#1e1e22"/>
<line x1="317.5" y1="775" x2="317.5" y2="789" stroke="#1e1e22"/>
<line x1="381.5" y1="775" x2="381.5" y2="789" stroke="#1e1e22"/>
<line x1="445.5" y1="775" x2="445.5" y2="789" stroke="#1e1e22"/>
<g font-family='"Liberation Mono", "WenQuanYi Zen Hei", "Noto Sans CJK SC", sans-serif' font-size="12">
<text x="28" y="786.6" fill="#d4d4d4">指标</text>
<text x="68" y="786.6" fill="#ffffff">模板</text>
<text y="786.6" fill="#f7b93f"><tspan x="108" textLength="18" lengthAdjust="spacingAndGlyphs">VIP</tspan><tspan x="126">指标</tspan></text>
<text x="166" y="786.6" fill="#d4d4d4">标准</text>
<text x="205" y="786.6" fill="#d4d4d4" textLength="24" lengthAdjust="spacingAndGlyphs">MACD</text>
<text x="246" y="786.6" fill="#ffffff" textLength="24" lengthAdjust="spacingAndGlyphs">BOLL</text>
<text x="286" y="786.6" fill="#d4d4d4">一图</text>
<text x="326" y="786.6" fill="#d4d4d4">另存模板</text>
<text x="389.5" y="786.6" fill="#d4d4d4">管理模板</text>
</g>
<text x="1157.4" y="764.3" fill="#e4ecfa" font-size="30" letter-spacing="2.8" shape-rendering="auto">FX678</text>
</svg>
</body></html>
